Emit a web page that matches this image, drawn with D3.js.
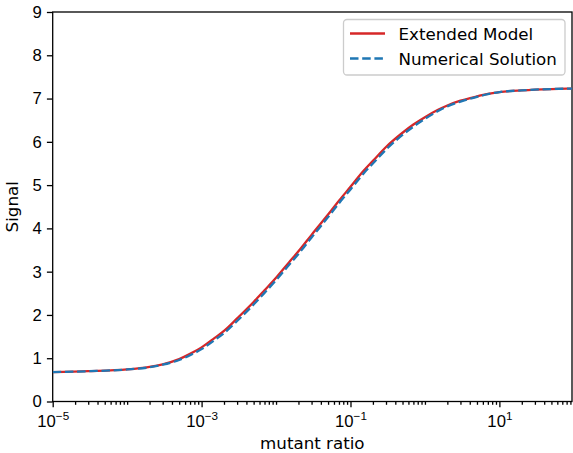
<!DOCTYPE html>
<html lang="en">
<head>
<meta charset="UTF-8">
<title>Signal vs mutant ratio</title>
<style>
  body { margin: 0; background: #fff; }
  svg { font-family: "DejaVu Sans", sans-serif; }
  .axis text { font-size: 16.7px; fill: #000; }
  .axis path, .axis line { stroke: #000; stroke-width: 1.3; fill: none; }
</style>
<script src="https://cdn.jsdelivr.net/npm/d3@7"></script>
</head>
<body>
<script>
// mutant ratio sample points (x, log scale)
var mutantRatio = [1e-5, 3e-5, 1e-4, 2e-4, 3e-4, 5e-4, 7e-4, 1e-3, 1.5e-3, 2e-3, 3e-3, 5e-3, 7e-3,
  1e-2, 1.5e-2, 2e-2, 3e-2, 5e-2, 7e-2, 0.1, 0.15, 0.2, 0.3, 0.5, 0.7, 1, 1.5, 2, 3, 5, 7, 10, 20, 50, 95];

// signal
var extendedModel = [0.68, 0.70, 0.74, 0.80, 0.86, 0.98, 1.10, 1.25, 1.47, 1.63, 1.92, 2.30, 2.57,
  2.86, 3.22, 3.47, 3.85, 4.32, 4.64, 4.96, 5.33, 5.56, 5.88, 6.21, 6.40, 6.57, 6.74, 6.84, 6.95, 7.05, 7.11, 7.15, 7.19, 7.22, 7.23];

var numericalSolution = [0.68, 0.70, 0.74, 0.79, 0.85, 0.96, 1.07, 1.21, 1.42, 1.58, 1.86, 2.24, 2.51,
  2.80, 3.16, 3.41, 3.79, 4.26, 4.58, 4.90, 5.27, 5.50, 5.82, 6.16, 6.35, 6.53, 6.71, 6.82, 6.93, 7.04, 7.10, 7.15, 7.19, 7.22, 7.23];

var yTicks = [0, 1, 2, 3, 4, 5, 6, 7, 8, 9];
var xMajorExponents = [-5, -3, -1, 1];

var seriesNames = ["Extended Model", "Numerical Solution"];
var seriesColors = ["#d62728", "#1f77b4"];

var fullWidth = 573, fullHeight = 453;
var margin = {top: 12, right: 1, bottom: 51.5, left: 52.7};
var width = fullWidth - margin.left - margin.right;
var height = fullHeight - margin.top - margin.bottom;

var svg = d3.select("body").append("svg")
  .attr("width", fullWidth)
  .attr("height", fullHeight);

var g = svg.append("g")
  .attr("transform", "translate(" + margin.left + "," + margin.top + ")");

// x domain end chosen so the right spine lands where it does in the picture
var xScale = d3.scaleLog().domain([1e-5, 94.5]).range([0, width]);
var yScale = d3.scaleLinear().domain([0, 9]).range([height, 0]);

g.append("clipPath").attr("id", "plotClip")
  .append("rect").attr("width", width).attr("height", height);

// minor ticks: every 1..9 x 10^k that is not a labelled major
var minorTicks = [];
for (var e = -5; e <= 1; e++) {
  for (var m = 1; m <= 9; m++) {
    var v = m * Math.pow(10, e);
    if (m === 1 && xMajorExponents.indexOf(e) >= 0) continue;
    if (v <= 94.5) minorTicks.push(v);
  }
}

g.append("g")
  .attr("class", "axis")
  .attr("transform", "translate(0," + height + ")")
  .call(d3.axisBottom(xScale).tickValues(minorTicks).tickSize(3.3).tickFormat(""))
  .call(function(s){ s.select(".domain").remove(); });

var xAxis = g.append("g")
  .attr("class", "axis")
  .attr("transform", "translate(0," + height + ")")
  .call(d3.axisBottom(xScale)
    .tickValues(xMajorExponents.map(function(d){ return Math.pow(10, d); }))
    .tickSize(5.8).tickFormat(""));
xAxis.select(".domain").remove();

xAxis.selectAll(".tick").append("text")
  .attr("y", 25.5)
  .attr("text-anchor", "middle")
  .each(function(d) {
    var t = d3.select(this);
    var ex = Math.round(Math.log10(d));
    t.append("tspan").text("10");
    t.append("tspan").attr("dy", -7).style("font-size", "11.7px").text(ex < 0 ? "\u2212" + (-ex) : String(ex));
  });

var yAxis = g.append("g")
  .attr("class", "axis")
  .call(d3.axisLeft(yScale).tickValues(yTicks).tickSize(5.8).tickPadding(5).tickFormat(d3.format("d")));
yAxis.select(".domain").remove();

// spines
g.append("rect")
  .attr("width", width).attr("height", height)
  .attr("fill", "none").attr("stroke", "#000").attr("stroke-width", 1.3);

var line = d3.line()
  .x(function(d){ return xScale(d[0]); })
  .y(function(d){ return yScale(d[1]); })
  .curve(d3.curveMonotoneX);

var plot = g.append("g").attr("clip-path", "url(#plotClip)");

plot.append("path")
  .datum(d3.zip(mutantRatio, extendedModel))
  .attr("d", line)
  .attr("fill", "none")
  .attr("stroke", seriesColors[0])
  .attr("stroke-width", 2.3);

plot.append("path")
  .datum(d3.zip(mutantRatio, numericalSolution))
  .attr("d", line)
  .attr("fill", "none")
  .attr("stroke", seriesColors[1])
  .attr("stroke-width", 2.3)
  .attr("stroke-dasharray", "8.5,3.7");

// axis labels
svg.append("text")
  .attr("x", margin.left + width / 2)
  .attr("y", 449)
  .attr("text-anchor", "middle")
  .style("font-size", "16.7px")
  .text("mutant ratio");

svg.append("text")
  .attr("transform", "translate(18," + (margin.top + height / 2) + ") rotate(-90)")
  .attr("text-anchor", "middle")
  .style("font-size", "16.7px")
  .text("Signal");

// legend
var legend = svg.append("g").attr("transform", "translate(343.5,19.5)");
legend.append("rect")
  .attr("width", 221.5).attr("height", 55.5)
  .attr("rx", 3.5).attr("ry", 3.5)
  .attr("fill", "#fff").attr("fill-opacity", 0.8)
  .attr("stroke", "#ccc").attr("stroke-width", 1.3);

seriesNames.forEach(function(name, i) {
  var row = legend.append("g").attr("transform", "translate(0," + (14 + i * 25) + ")");
  row.append("line")
    .attr("x1", 6.5).attr("x2", 41.5).attr("y1", 0).attr("y2", 0)
    .attr("stroke", seriesColors[i]).attr("stroke-width", 2.3)
    .attr("stroke-dasharray", i === 1 ? "8.5,3.7" : null);
  row.append("text")
    .attr("x", 55).attr("y", 6)
    .style("font-size", "16.7px")
    .text(name);
});
</script>
</body>
</html>
